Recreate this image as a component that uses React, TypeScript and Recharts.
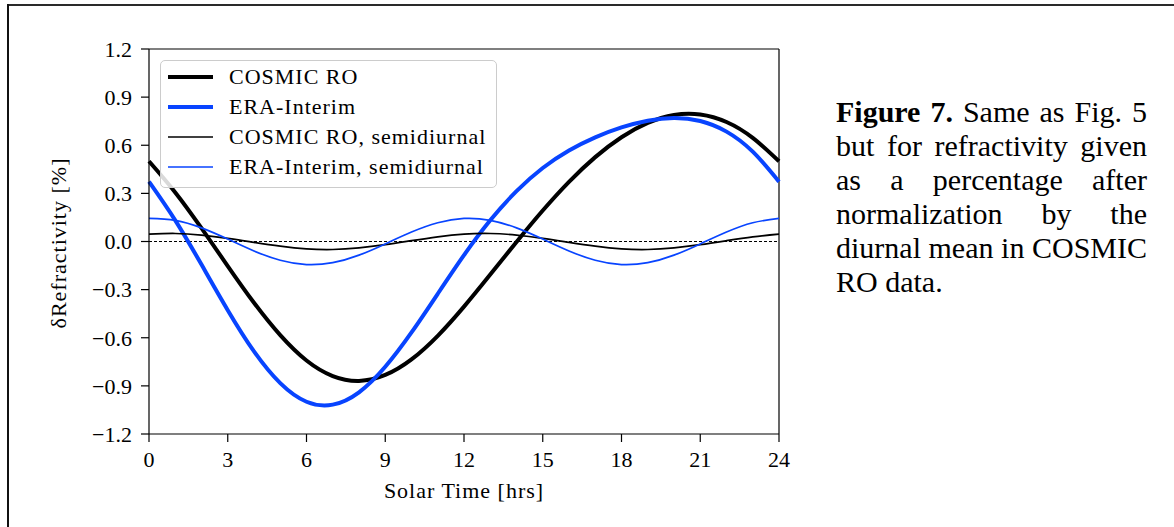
import React from 'react';
import { LineChart, Line, XAxis, YAxis, ReferenceLine, Legend } from 'recharts';

// Diurnal cycle of refractivity anomaly (%), hourly solar time
const hours = [0, 1, 2, 3, 4, 5, 6, 7, 8, 9, 10, 11, 12, 13, 14, 15, 16, 17, 18, 19, 20, 21, 22, 23, 24];
const cosmicRO = [0.5, 0.306, 0.083, -0.153, -0.382, -0.584, -0.742, -0.839, -0.869, -0.832, -0.735, -0.588, -0.406, -0.206, -0.003, 0.193, 0.372, 0.526, 0.65, 0.739, 0.789, 0.792, 0.745, 0.646, 0.5];
const eraInterim = [0.373, 0.132, -0.144, -0.428, -0.685, -0.883, -0.999, -1.017, -0.94, -0.781, -0.567, -0.326, -0.085, 0.132, 0.314, 0.458, 0.567, 0.649, 0.711, 0.753, 0.77, 0.751, 0.685, 0.56, 0.373];
const cosmicSemidiurnal = [0.046, 0.05, 0.04, 0.02, -0.005, -0.029, -0.046, -0.05, -0.04, -0.02, 0.005, 0.029, 0.046, 0.05, 0.04, 0.02, -0.005, -0.029, -0.046, -0.05, -0.04, -0.02, 0.005, 0.029, 0.046];
const eraSemidiurnal = [0.144, 0.132, 0.085, 0.015, -0.059, -0.117, -0.144, -0.132, -0.085, -0.015, 0.059, 0.117, 0.144, 0.132, 0.085, 0.015, -0.059, -0.117, -0.144, -0.132, -0.085, -0.015, 0.059, 0.117, 0.144];

const xTicks = [0, 3, 6, 9, 12, 15, 18, 21, 24];
const yTicks = [-1.2, -0.9, -0.6, -0.3, 0, 0.3, 0.6, 0.9, 1.2];

const data = hours.map((h, i) => ({
  hour: h,
  cosmic: cosmicRO[i],
  era: eraInterim[i],
  cosmicSemi: cosmicSemidiurnal[i],
  eraSemi: eraSemidiurnal[i],
}));

const BLUE = '#0844ff';
const SERIF = '"Liberation Serif", "Times New Roman", serif';

const SERIES = [
  { key: 'cosmic', name: 'COSMIC RO', color: '#000000', width: 4 },
  { key: 'era', name: 'ERA-Interim', color: BLUE, width: 4 },
  { key: 'cosmicSemi', name: 'COSMIC RO, semidiurnal', color: '#000000', width: 1.7 },
  { key: 'eraSemi', name: 'ERA-Interim, semidiurnal', color: BLUE, width: 1.7 },
];

const fmtY = (v: number) => v.toFixed(1).replace('-', '\u2212');

const tickStyle = { fill: '#000', fontSize: 22, fontFamily: SERIF };
const axisStroke = { stroke: '#000', strokeWidth: 1.2 };

const renderLegend = () => (
  <div
    style={{
      border: '1.5px solid #cccccc',
      borderRadius: 5,
      background: 'rgba(255,255,255,0.85)',
      padding: '1px 10px 5px 7px',
      fontFamily: SERIF,
      fontSize: 22,
      letterSpacing: 1,
      color: '#000',
    }}
  >
    {SERIES.map((s) => (
      <div key={s.key} style={{ display: 'flex', alignItems: 'center', height: 30 }}>
        <svg width={45} height={10}>
          <line x1={0} x2={45} y1={5} y2={5} stroke={s.color} strokeWidth={s.width} />
        </svg>
        <span style={{ marginLeft: 16, whiteSpace: 'nowrap' }}>{s.name}</span>
      </div>
    ))}
  </div>
);

const yLabel = () => (
  <text x={66} y={243} transform="rotate(-90, 66, 243)" textAnchor="middle"
    fontFamily={SERIF} fontSize={22} letterSpacing={1} fill="#000">
    δRefractivity [%]
  </text>
);

const xLabel = () => (
  <text x={464} y={498} textAnchor="middle" fontFamily={SERIF} fontSize={22} letterSpacing={1} fill="#000">
    Solar Time [hrs]
  </text>
);

const captionLines = [
  'Same as Fig. 5',
  'but for refractivity given',
  'as a percentage after',
  'normalization by the',
  'diurnal mean in COSMIC',
];

export default function App() {
  return (
    <div style={{ position: 'absolute', left: 0, top: 0, width: 1174, height: 527, overflow: 'hidden', background: '#fff' }}>
      <div style={{ position: 'absolute', left: 0, top: 0 }}>
        <LineChart width={1174} height={527} data={data} margin={{ top: 49, right: 395, bottom: 33, left: 89 }}>
          <XAxis
            dataKey="hour"
            type="number"
            domain={[0, 24]}
            ticks={xTicks}
            height={60}
            tick={tickStyle}
            tickSize={8}
            tickMargin={9}
            axisLine={axisStroke}
            tickLine={axisStroke}
            label={xLabel}
          />
          <YAxis
            type="number"
            domain={[-1.2, 1.2]}
            ticks={yTicks}
            width={60}
            tick={tickStyle}
            tickFormatter={fmtY}
            tickSize={8}
            tickMargin={9}
            axisLine={axisStroke}
            tickLine={axisStroke}
            label={yLabel}
          />
          <ReferenceLine y={1.2} stroke="#000" strokeWidth={1.2} />
          <ReferenceLine x={24} stroke="#000" strokeWidth={1.2} />
          <ReferenceLine y={0} stroke="#000" strokeWidth={1} strokeDasharray="3 2" />
          {SERIES.map((s) => (
            <Line
              key={s.key}
              dataKey={s.key}
              name={s.name}
              type="natural"
              stroke={s.color}
              strokeWidth={s.width}
              dot={false}
              activeDot={false}
              isAnimationActive={false}
            />
          ))}
          <Legend
            layout="vertical"
            align="center"
            verticalAlign="middle"
            content={renderLegend}
            wrapperStyle={{ left: 160, top: 60, width: 'auto', height: 'auto' }}
          />
        </LineChart>
      </div>

      {/* page frame: top and left edges */}
      <div style={{ position: 'absolute', left: 7, top: 4, width: 1167, height: 2, background: '#2a2a2a', zIndex: 5 }} />
      <div style={{ position: 'absolute', left: 7, top: 4, width: 2, height: 523, background: '#111', zIndex: 5 }} />

      <div style={{ position: 'absolute', left: 836, top: 95, width: 311, fontFamily: SERIF, fontSize: 30, lineHeight: '34px', color: '#000' }}>
        {captionLines.map((line, i) => (
          <div key={i} style={{ textAlign: 'justify', textAlignLast: 'justify', whiteSpace: 'nowrap' }}>
            {i === 0 && <b>Figure 7. </b>}
            {line}
          </div>
        ))}
        <div>RO data.</div>
      </div>
    </div>
  );
}
